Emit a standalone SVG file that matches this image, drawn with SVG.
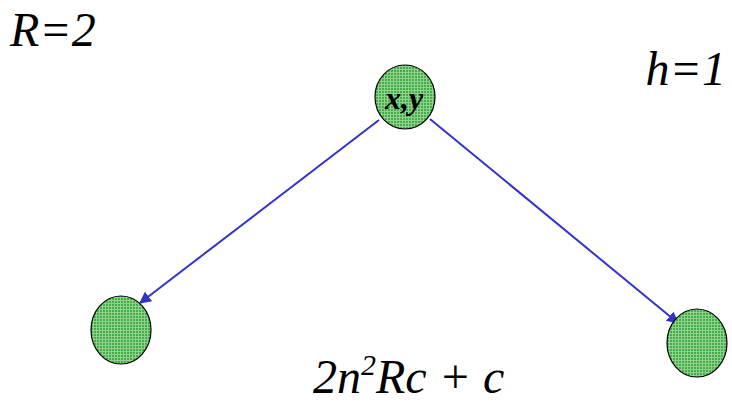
<svg xmlns="http://www.w3.org/2000/svg" width="732" height="405" viewBox="0 0 732 405">
<style>
.node{fill:url(#grid);stroke:#000;stroke-width:1.2}
.edge{stroke:#3333cc;stroke-width:2;fill:none;marker-end:url(#ah)}
.t{font-family:"Liberation Serif",serif;font-style:italic;font-size:48px}
</style>
<defs>
<pattern id="grid" width="3" height="3" patternUnits="userSpaceOnUse">
<rect width="3" height="3" fill="#46ad46"/>
<path d="M0 0.5H3M0.5 0V3" stroke="#8fd28f" stroke-width="1"/>
</pattern>
<marker id="ah" viewBox="0 0 10 10" refX="9" refY="5" markerWidth="6" markerHeight="6" orient="auto" markerUnits="strokeWidth">
<path d="M0 0L10 5L0 10z" fill="#3333cc"/>
</marker>
</defs>
<text class="t" x="10" y="46">R=2</text>
<text class="t" x="726" y="85" text-anchor="end">h=1</text>
<g id="connectors">
<line class="edge" x1="379" y1="120" x2="140" y2="303"/>
<line class="edge" x1="430" y1="119" x2="678" y2="323"/>
</g>
<g id="n-top">
<ellipse class="node" cx="405" cy="97" rx="30" ry="32"/>
<text x="404" y="109" text-anchor="middle" font-family="Liberation Serif, serif" font-style="italic" font-weight="bold" font-size="32">x,y</text>
</g>
<g id="n-left">
<ellipse class="node" cx="121" cy="330" rx="30" ry="34"/>
</g>
<g id="n-right">
<ellipse class="node" cx="697" cy="343" rx="30" ry="34"/>
</g>
<text class="t" x="313" y="393">2n<tspan font-size="30" dy="-18">2</tspan><tspan dy="18">Rc + c</tspan></text>
</svg>
